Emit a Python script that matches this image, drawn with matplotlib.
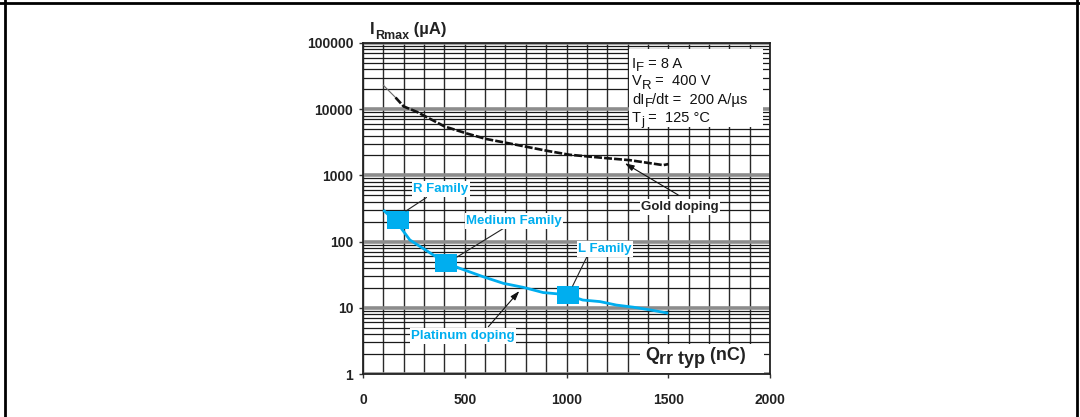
import matplotlib
matplotlib.use("Agg")
import matplotlib.pyplot as plt
from matplotlib.lines import Line2D
from matplotlib.patches import Rectangle
from matplotlib.path import Path
from matplotlib.ticker import FixedLocator, FixedFormatter, NullFormatter

plt.rcParams['font.family'] = ['Liberation Sans', 'DejaVu Sans']

# ---------------- data ----------------
gold_x = [100, 160, 200, 265, 400, 510, 605, 705, 805, 905, 1015, 1115, 1215, 1310, 1410, 1475, 1500]
gold_y = [23000, 15000, 11000, 9100, 5500, 4300, 3550, 3100, 2700, 2350, 2050, 1920, 1800, 1700, 1530, 1430, 1480]

plat_x = [100, 175, 230, 295, 345, 410, 475, 590, 690, 790, 885, 960, 1010, 1080, 1165, 1245, 1330, 1410, 1500]
plat_y = [300, 180, 106, 79, 63, 48, 39.5, 29.5, 23.4, 20.3, 17, 16.2, 15.5, 13.1, 12.4, 11, 10.2, 9.3, 8.3]

family_names = ['R Family', 'Medium Family', 'L Family']
family_x = [170, 410, 1005]
family_y = [210, 48, 15.5]

x_ticks = [0, 500, 1000, 1500, 2000]
x_tick_labels = ['0', '500', '1000', '1500', '2000']
y_ticks = [1, 10, 100, 1000, 10000, 100000]
y_tick_labels = ['1', '10', '100', '1000', '10000', '100000']

BLUE = '#00AEEF'

fig = plt.figure(figsize=(10.8, 4.17), dpi=100)
ax = fig.add_axes([363 / 1080, (417 - 374) / 417, 407 / 1080, 331 / 417])
ax.set_yscale('log')
ax.set_xlim(0, 2000)
ax.set_ylim(1, 100000)

# grid
ax.xaxis.set_major_locator(FixedLocator(x_ticks))
ax.xaxis.set_major_formatter(FixedFormatter(x_tick_labels))
ax.xaxis.set_minor_locator(FixedLocator(list(range(0, 2001, 100))))
ax.yaxis.set_major_locator(FixedLocator(y_ticks))
ax.yaxis.set_major_formatter(FixedFormatter(y_tick_labels))
ax.yaxis.set_minor_locator(FixedLocator([m * 10 ** e for e in range(0, 5) for m in range(2, 10)]))
ax.yaxis.set_minor_formatter(NullFormatter())

ax.grid(True, axis='x', which='both', color='#2a2a2a', lw=1.0)
ax.grid(True, axis='y', which='minor', color='#1a1a1a', lw=0.9)
ax.grid(True, axis='y', which='major', color='#8c8c8c', lw=2.6)
ax.set_axisbelow(True)

ax.tick_params(which='major', direction='out', length=3, width=1, color='#333')
ax.tick_params(which='minor', length=0)
ax.tick_params(axis='x', pad=11, labelsize=10)
ax.tick_params(axis='y', pad=4, labelsize=10)
for lab in ax.get_xticklabels() + ax.get_yticklabels():
    lab.set_fontweight('bold')
    lab.set_color('#222')
for sp in ax.spines.values():
    sp.set_linewidth(1.3)
    sp.set_color('#222')

# curves
ax.plot(gold_x[:2], gold_y[:2], color='#666666', lw=0.8, zorder=3)
ax.plot(gold_x[1:], gold_y[1:], color='#111111', lw=1.9, ls=(0, (3, 0.8)), zorder=3)
ax.plot(plat_x, plat_y, color=BLUE, lw=2.0, zorder=3, solid_capstyle='butt')

sq = Path([(-1.16, -1), (1.16, -1), (1.16, 1), (-1.16, 1), (-1.16, -1)],
          [Path.MOVETO, Path.LINETO, Path.LINETO, Path.LINETO, Path.CLOSEPOLY])
ax.plot(family_x, family_y, ls='none', marker=sq, markersize=15.8, color=BLUE,
        markeredgewidth=0, zorder=4)

# white boxes
ax.add_patch(Rectangle((0.654, 0.746), 0.329, 0.236, transform=ax.transAxes,
                       fc='white', ec='none', zorder=4))
ax.add_patch(Rectangle((0.6806, 0.0045), 0.3044, 0.086, transform=ax.transAxes,
                       fc='white', ec='none', zorder=4))

bb = dict(boxstyle='square,pad=0.12', fc='white', ec='none')
lab_kw = dict(fontsize=9.5, fontweight='bold', ha='center', va='center', zorder=6, bbox=bb)
line_kw = dict(arrowstyle='-', color='#222', lw=0.8, shrinkA=0, shrinkB=0)
arr_kw = dict(arrowstyle='-|>,head_length=0.55,head_width=0.18', color='#111', lw=0.8,
              shrinkA=0, shrinkB=0)

# family labels (text position, line start, line end)
fam_text = [(383, 624), (742, 205), (1189, 77.3)]
fam_line = [((312, 464), (211, 290)), ((693, 160), (462, 58.5)), ((1099, 58), (1030, 21.3))]
for name, tp, (p0, p1) in zip(family_names, fam_text, fam_line):
    ax.annotate('', xy=p1, xytext=p0, arrowprops=line_kw, zorder=5)
    ax.text(tp[0], tp[1], name, color=BLUE, **lab_kw)

ax.annotate('', xy=(768, 17.9), xytext=(616, 5.19), arrowprops=arr_kw, zorder=5)
ax.text(491, 3.75, 'Platinum doping', color=BLUE, **lab_kw)

ax.annotate('', xy=(1287, 1523), xytext=(1549, 506), arrowprops=arr_kw, zorder=5)
ax.text(1558, 333, 'Gold doping', color='#222', **lab_kw)


def chain_text(x, y, pieces, transform, color='#111', zorder=7):
    s0, fs0, fw0 = pieces[0][:3]
    first = ax.text(x, y, s0, transform=transform, fontsize=fs0, fontweight=fw0,
                    ha='left', va='baseline', color=color, zorder=zorder)
    prev = first
    for s, fs, fw, dy in pieces[1:]:
        prev = ax.annotate(s, xy=(1, 0), xycoords=(prev, first), xytext=(0, dy),
                           textcoords='offset points', ha='left', va='bottom',
                           fontsize=fs, fontweight=fw, color=color, zorder=zorder,
                           annotation_clip=False)
    return first


def px_to_axes(px, py):
    return (px - 363) / 407, (374 - py) / 331


# conditions box
fsz = 10.5
cx, _ = px_to_axes(632, 0)
rows = [
    (68, [('I', fsz, 'normal', 0), ('F', fsz * 0.9, 'normal', -2.0), (' = 8 A', fsz, 'normal', 0)]),
    (85, [('V', fsz, 'normal', 0), ('R', fsz * 0.9, 'normal', -3.2), (' =  400 V', fsz, 'normal', 0)]),
    (104, [('dI', fsz, 'normal', 0), ('F', fsz * 0.9, 'normal', -2.0), ('/dt =  200 A/µs', fsz, 'normal', 0)]),
    (122, [('T', fsz, 'normal', 0), ('j', fsz * 0.9, 'normal', -2.5), (' =  125 °C', fsz, 'normal', 0)]),
]
for py, pieces in rows:
    _, cy = px_to_axes(0, py)
    chain_text(cx, cy, pieces, ax.transAxes)

# y-axis title
yx, yy = px_to_axes(370, 34.4)
chain_text(yx, yy, [('I', 12, 'bold', 0), ('Rmax', 9, 'bold', -3.0), (' (µA)', 12, 'bold', 0)],
           ax.transAxes, color='#222')

# x-axis title
qx, qy = px_to_axes(645, 360)
chain_text(qx, qy, [('Q', 13, 'bold', 0), ('rr typ', 13, 'bold', -3.0), (' (nC)', 13, 'bold', 0)],
           ax.transAxes, color='#222')

# outer frame
for xs, ys in [([4.5 / 1080, 4.5 / 1080], [0, 1]),
               ([0, 1], [1 - 3 / 417, 1 - 3 / 417]),
               ([1 - 3 / 1080, 1 - 3 / 1080], [0, 1])]:
    fig.add_artist(Line2D(xs, ys, transform=fig.transFigure, color='black', lw=2.0))

fig.savefig('out.png', dpi=100)
